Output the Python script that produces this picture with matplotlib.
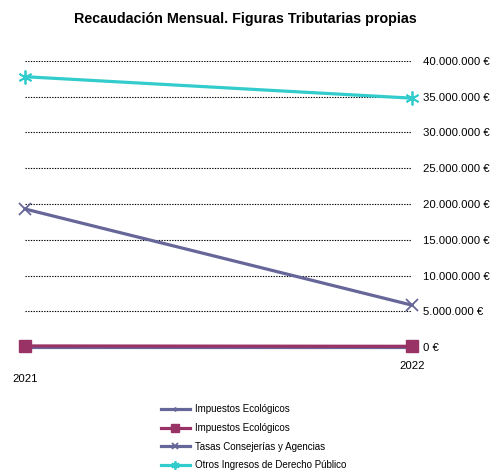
import matplotlib.pyplot as plt
import matplotlib.transforms as mtransforms
from matplotlib.ticker import FuncFormatter

plt.rcParams['font.family'] = ['Liberation Sans', 'DejaVu Sans']

years = [2021, 2022]
year_labels = ['2021', '2022']
impuestos_eco_a = [0, 0]
impuestos_eco_b = [150000, 100000]
tasas = [19300000, 5850000]
otros = [37800000, 34800000]

series = [
    ('Impuestos Ecológicos', impuestos_eco_a, '#666699', 'D', 3),
    ('Impuestos Ecológicos', impuestos_eco_b, '#993366', 's', 8.5),
    ('Tasas Consejerías y Agencias', tasas, '#666699', 'x', 8),
    ('Otros Ingresos de Derecho Público', otros, '#33cccc', (6, 2, 0), 10),
]

fig = plt.figure(figsize=(4.9, 4.72), dpi=100)
ax = fig.add_axes([0.051, 0.2648, 0.790, 0.606])

for name, vals, col, mk, ms in series:
    kw = dict(markerfacecolor=col, markeredgecolor=col)
    if mk == 'x' or isinstance(mk, tuple):
        kw['markeredgewidth'] = 1.3
    ax.plot(years, vals, color=col, lw=2.3, marker=mk, markersize=ms,
            label=name, clip_on=False, **kw)

ax.set_xlim(2021, 2022)
ax.set_ylim(0, 40000000)
ax.set_yticks(range(0, 40000001, 5000000))
ax.yaxis.set_major_formatter(FuncFormatter(
    lambda v, p: '{:,.0f} €'.format(v).replace(',', '.')))
ax.yaxis.tick_right()
ax.tick_params(axis='y', length=0, pad=8, labelsize=8.2)
ax.grid(axis='y', color='black', linestyle=(0, (1.2, 1.2)), linewidth=0.8)
ax.set_axisbelow(True)

ax.set_xticks(years)
ax.set_xticklabels(year_labels)
ax.tick_params(axis='x', length=3, width=0.8, direction='out', pad=7, labelsize=8.2)
lab = ax.get_xticklabels()
lab[0].set_transform(lab[0].get_transform() +
                     mtransforms.ScaledTranslation(0, -13 / 100, fig.dpi_scale_trans))

for s in ax.spines.values():
    s.set_visible(False)
ax.axhline(0, color='black', lw=0.8, zorder=1)

fig.suptitle('Recaudación Mensual. Figuras Tributarias propias',
             fontsize=10.3, fontweight='bold', x=0.5, y=0.975)

fig.legend(loc='upper left', bbox_to_anchor=(0.318, 0.154), frameon=False,
           fontsize=7.0, handlelength=3.0, labelspacing=0.9, handletextpad=0.55,
           borderpad=0, markerscale=0.6)

fig.savefig('out.png', dpi=100)
